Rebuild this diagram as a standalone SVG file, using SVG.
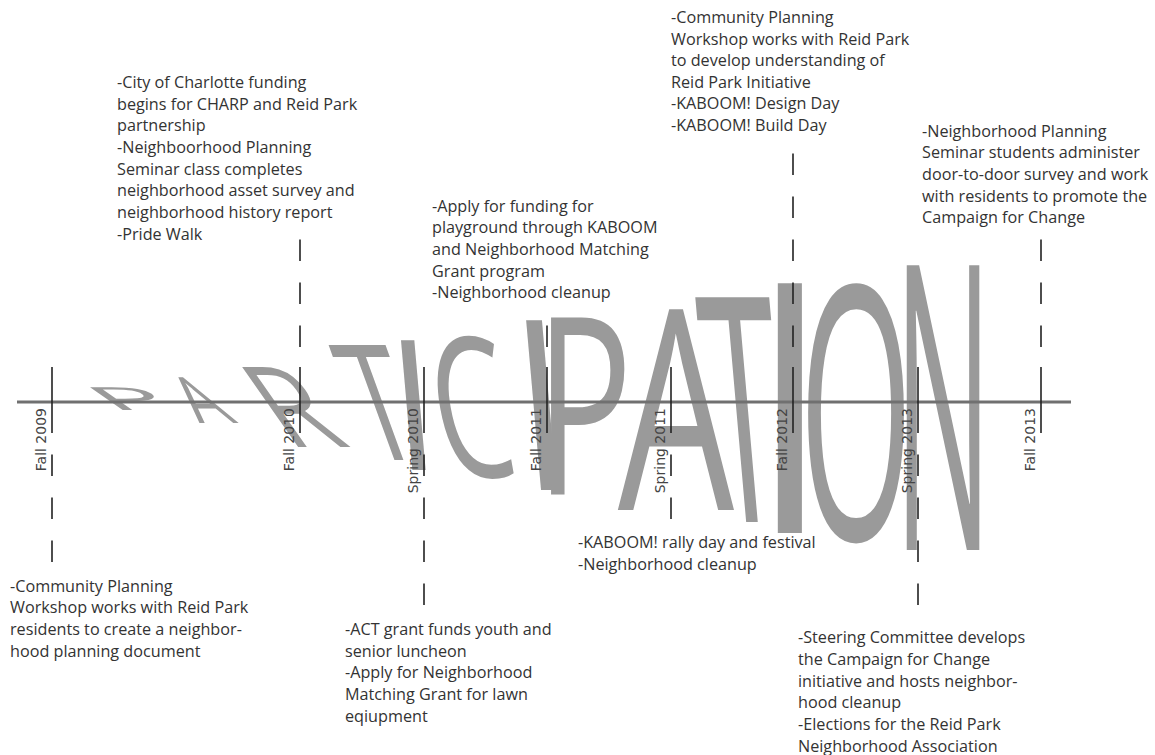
<svg xmlns="http://www.w3.org/2000/svg" width="1155" height="755" viewBox="0 0 1155 755">
  <style>
    .ev { font-family: "Open Sans", "Liberation Sans", sans-serif; font-size: 16.2px; fill: #333; }
    .date { font-family: "DejaVu Sans", "Liberation Sans", sans-serif; font-size: 14px; fill: #444; }
    .big { font-family: "Open Sans", "Liberation Sans", sans-serif; font-weight: 500; font-size: 100px; fill: #9a9a9a; }
    .tick { stroke: #222; stroke-width: 1.6; }
    .lead { stroke: #222; stroke-width: 1.6; stroke-dasharray: 21.5 21.5; fill: none; }
    .axis { stroke: #707070; stroke-width: 3; }
  </style>
  <rect width="1155" height="755" fill="#fff"/>

  <!-- warped title word, one letter per element, growing toward the right -->
  <g id="title" class="big" text-anchor="middle">
    <text transform="translate(146,410) skewX(55) scale(1.15,0.32)">P</text>
    <text transform="translate(219,423) skewX(40) scale(0.62,0.64)">A</text>
    <text transform="translate(320,447) skewX(35) scale(1.04,1.12)">R</text>
    <text transform="translate(399,460) skewX(20) scale(1.07,1.61)">T</text>
    <text transform="translate(419,470) skewX(5) scale(1.6,1.82)">I</text>
    <text transform="translate(483,477) skewX(10) scale(1.21,1.95)">C</text>
    <text transform="translate(549,490) skewX(5) scale(1.9,2.38)">I</text>
    <text transform="translate(584,495) scale(1.62,2.48)">P</text>
    <text transform="translate(676,510) scale(1.84,2.8)">A</text>
    <text transform="translate(752,522) skewX(5) scale(1.39,3.15)">T</text>
    <text transform="translate(790,533) scale(2.9,3.5)">I</text>
    <text transform="translate(856,540) scale(1.46,3.54)">O</text>
    <text transform="translate(943,550) scale(1.3,3.99)">N</text>
  </g>

  <!-- dashed leaders from the ticks to the event notes -->
  <g id="connectors">
    <line class="lead" x1="300" y1="347" x2="300" y2="239"/>
    <line class="lead" x1="547" y1="347" x2="547" y2="325"/>
    <line class="lead" x1="793" y1="347" x2="793" y2="153"/>
    <line class="lead" x1="1041" y1="347" x2="1041" y2="239"/>
    <line class="lead" x1="52" y1="454.5" x2="52" y2="562"/>
    <line class="lead" x1="424" y1="454.5" x2="424" y2="605"/>
    <line class="lead" x1="671" y1="454.5" x2="671" y2="519"/>
    <line class="lead" x1="918" y1="454.5" x2="918" y2="605"/>
  </g>

  <!-- time axis and its ticks -->
  <g id="axis">
    <line class="axis" x1="17" y1="402" x2="1071" y2="402"/>
    <line class="tick" x1="52" y1="367" x2="52" y2="433"/>
    <line class="tick" x1="300" y1="367" x2="300" y2="433"/>
    <line class="tick" x1="424" y1="367" x2="424" y2="433"/>
    <line class="tick" x1="547" y1="367" x2="547" y2="433"/>
    <line class="tick" x1="671" y1="367" x2="671" y2="433"/>
    <line class="tick" x1="793" y1="367" x2="793" y2="433"/>
    <line class="tick" x1="918" y1="367" x2="918" y2="433"/>
    <line class="tick" x1="1041" y1="367" x2="1041" y2="433"/>
  </g>

  <!-- semester labels -->
  <g id="dates" class="date" text-anchor="end">
    <text transform="translate(46,408) rotate(-90)">Fall 2009</text>
    <text transform="translate(294,408) rotate(-90)">Fall 2010</text>
    <text transform="translate(418,408) rotate(-90)">Spring 2010</text>
    <text transform="translate(541,408) rotate(-90)">Fall 2011</text>
    <text transform="translate(665,408) rotate(-90)">Spring 2011</text>
    <text transform="translate(787,408) rotate(-90)">Fall 2012</text>
    <text transform="translate(912,408) rotate(-90)">Spring 2013</text>
    <text transform="translate(1035,408) rotate(-90)">Fall 2013</text>
  </g>

  <!-- event notes -->
  <g id="fall2010">
    <text class="ev" x="117" y="88">
      <tspan x="117">-City of Charlotte funding</tspan>
      <tspan x="117" dy="21.65">begins for CHARP and Reid Park</tspan>
      <tspan x="117" dy="21.65">partnership</tspan>
      <tspan x="117" dy="21.65">-Neighboorhood Planning</tspan>
      <tspan x="117" dy="21.65">Seminar class completes</tspan>
      <tspan x="117" dy="21.65">neighborhood asset survey and</tspan>
      <tspan x="117" dy="21.65">neighborhood history report</tspan>
      <tspan x="117" dy="21.65">-Pride Walk</tspan>
    </text>
  </g>
  <g id="fall2011">
    <text class="ev" x="432" y="211.7">
      <tspan x="432">-Apply for funding for</tspan>
      <tspan x="432" dy="21.65">playground through KABOOM</tspan>
      <tspan x="432" dy="21.65">and Neighborhood Matching</tspan>
      <tspan x="432" dy="21.65">Grant program</tspan>
      <tspan x="432" dy="21.65">-Neighborhood cleanup</tspan>
    </text>
  </g>
  <g id="fall2012">
    <text class="ev" x="671" y="23.3">
      <tspan x="671">-Community Planning</tspan>
      <tspan x="671" dy="21.5">Workshop works with Reid Park</tspan>
      <tspan x="671" dy="21.5">to develop understanding of</tspan>
      <tspan x="671" dy="21.5">Reid Park Initiative</tspan>
      <tspan x="671" dy="21.5">-KABOOM! Design Day</tspan>
      <tspan x="671" dy="21.5">-KABOOM! Build Day</tspan>
    </text>
  </g>
  <g id="fall2013">
    <text class="ev" x="922" y="136.7">
      <tspan x="922">-Neighborhood Planning</tspan>
      <tspan x="922" dy="21.65">Seminar students administer</tspan>
      <tspan x="922" dy="21.65">door-to-door survey and work</tspan>
      <tspan x="922" dy="21.65">with residents to promote the</tspan>
      <tspan x="922" dy="21.65">Campaign for Change</tspan>
    </text>
  </g>
  <g id="fall2009">
    <text class="ev" x="10" y="591.7">
      <tspan x="10">-Community Planning</tspan>
      <tspan x="10" dy="21.65">Workshop works with Reid Park</tspan>
      <tspan x="10" dy="21.65">residents to create a neighbor-</tspan>
      <tspan x="10" dy="21.65">hood planning document</tspan>
    </text>
  </g>
  <g id="spring2010">
    <text class="ev" x="345" y="635">
      <tspan x="345">-ACT grant funds youth and</tspan>
      <tspan x="345" dy="21.65">senior luncheon</tspan>
      <tspan x="345" dy="21.65">-Apply for Neighborhood</tspan>
      <tspan x="345" dy="21.65">Matching Grant for lawn</tspan>
      <tspan x="345" dy="21.65">eqiupment</tspan>
    </text>
  </g>
  <g id="spring2011">
    <text class="ev" x="578" y="548.3">
      <tspan x="578">-KABOOM! rally day and festival</tspan>
      <tspan x="578" dy="21.65">-Neighborhood cleanup</tspan>
    </text>
  </g>
  <g id="spring2013">
    <text class="ev" x="798" y="643.3">
      <tspan x="798">-Steering Committee develops</tspan>
      <tspan x="798" dy="21.65">the Campaign for Change</tspan>
      <tspan x="798" dy="21.65">initiative and hosts neighbor-</tspan>
      <tspan x="798" dy="21.65">hood cleanup</tspan>
      <tspan x="798" dy="21.65">-Elections for the Reid Park</tspan>
      <tspan x="798" dy="21.65">Neighborhood Association</tspan>
    </text>
  </g>
</svg>
